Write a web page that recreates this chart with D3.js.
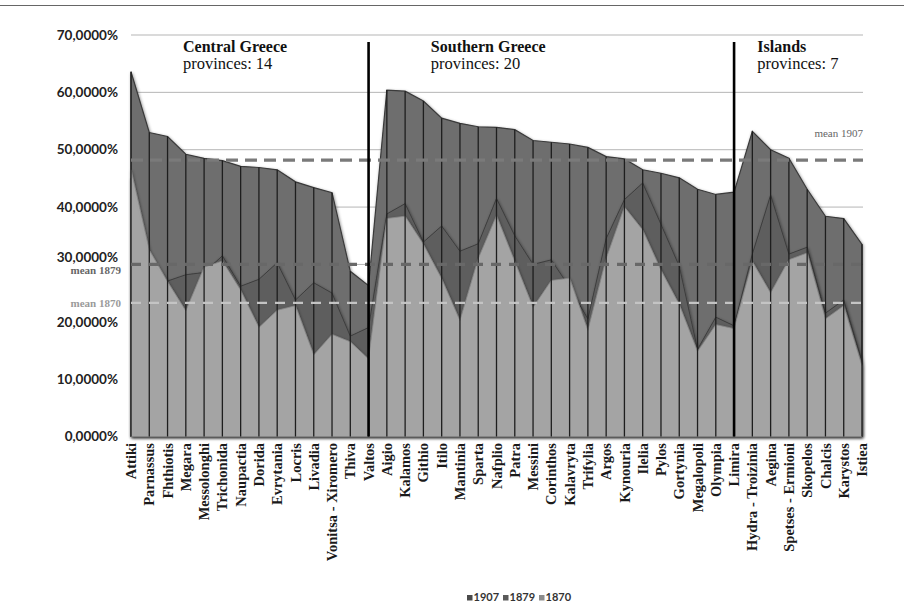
<!DOCTYPE html>
<html>
<head>
<meta charset="utf-8">
<script src="https://cdn.jsdelivr.net/npm/d3@7/dist/d3.min.js"></script>
<style>
  html, body { margin: 0; padding: 0; background: #fff; }
  svg { display: block; }
</style>
</head>
<body>
<svg id="chart" width="904" height="608"></svg>
<script>
const categories = ["Attiki","Parnassus","Fhthiotis","Megara","Messolonghi","Trichonida","Naupactia","Dorida","Evrytania","Locris","Livadia","Vonitsa - Xiromero","Thiva","Valtos","Aigio","Kalamos","Githio","Itilo","Mantinia","Sparta","Nafplio","Patra","Messini","Corinthos","Kalavryta","Trifylia","Argos","Kynouria","Ilelia","Pylos","Gortynia","Megalopoli","Olympia","Limira","Hydra - Troizinia","Aegina","Spetses - Ermioni","Skopelos","Chalcis","Karystos","Istiea"];
const v1907 = [63.6,53.0,52.3,49.2,48.5,48.1,47.1,46.9,46.5,44.4,43.4,42.5,28.8,26.3,60.4,60.2,58.5,55.5,54.6,54.0,53.9,53.5,51.6,51.3,51.0,50.4,48.8,48.4,46.5,45.9,45.1,43.1,42.2,42.6,53.2,50.0,48.5,43.1,38.4,38.0,33.5];
const v1879 = [45.0,31.0,27.1,28.2,28.6,31.5,26.2,27.4,30.3,23.8,26.8,25.0,17.5,19.0,38.8,40.6,33.9,36.7,32.3,33.6,41.5,35.0,30.0,30.8,26.0,20.5,34.5,41.3,44.2,37.0,29.7,15.2,20.8,19.3,31.8,42.1,31.8,33.0,21.5,23.8,13.2];
const v1870 = [46.5,32.5,27.0,21.9,29.5,30.6,25.5,19.0,22.0,22.8,14.2,17.8,16.5,13.5,38.0,38.4,33.5,27.5,20.2,31.0,38.5,30.5,22.5,27.2,27.6,18.5,31.0,40.0,36.0,29.0,23.0,14.8,19.5,18.8,30.5,25.0,30.8,32.0,20.5,22.8,12.3];
const yTicks = [0,10,20,30,40,50,60,70];
const means = [{name:"1907", value:48.2}, {name:"1879", value:30.0}, {name:"1870", value:23.3}];
const regions = [
  {title:"Central Greece", sub:"provinces: 14", first:"Attiki", dx:52},
  {title:"Southern Greece", sub:"provinces: 20", first:"Aigio", dx:44},
  {title:"Islands", sub:"provinces: 7", first:"Hydra - Troizinia", dx:5}
];
const dividers = ["Valtos","Limira"];
const legendItems = ["1907","1879","1870"];

const svg = d3.select("#chart");
const x = d3.scalePoint().domain(categories).range([131, 862]);
const y = d3.scaleLinear().domain([0, 70]).range([436.5, 35]);

// page top rule
svg.append("line").attr("x1",0).attr("x2",904).attr("y1",5.5).attr("y2",5.5)
  .attr("stroke","#666").attr("stroke-width",1);

const defs = svg.append("defs");
const f = defs.append("filter").attr("id","sh").attr("x","-5%").attr("y","-5%").attr("width","110%").attr("height","110%");
f.append("feDropShadow").attr("dx",0.8).attr("dy",1.2).attr("stdDeviation",1.4).attr("flood-color","#000").attr("flood-opacity",0.45);

// gridlines
svg.append("g").selectAll("line").data(yTicks).join("line")
  .attr("x1",131).attr("x2",863).attr("y1",d=>y(d)).attr("y2",d=>y(d))
  .attr("stroke","#b5b5b5").attr("stroke-width",1);

const area = vals => d3.area()
  .x((d,i)=>x(categories[i])).y0(y(0)).y1(d=>y(d))(vals);

svg.append("path").attr("d", area(v1907)).attr("fill","#6e6e6e")
  .attr("stroke","#3a3a3a").attr("stroke-width",1.2).attr("filter","url(#sh)");
svg.append("path").attr("d", area(v1879)).attr("fill","#5e5e5e").attr("fill-opacity",0.9)
  .attr("stroke","#3d3d3d").attr("stroke-width",1).attr("filter","url(#sh)");
svg.append("path").attr("d", area(v1870)).attr("fill","#a9a9a9").attr("fill-opacity",0.93)
  .attr("stroke","#8a8a8a").attr("stroke-width",0.8).attr("filter","url(#sh)");

// drop lines
svg.append("g").selectAll("line").data(categories).join("line")
  .attr("x1",d=>x(d)).attr("x2",d=>x(d))
  .attr("y1",(d,i)=>y(v1907[i])).attr("y2",y(0))
  .attr("stroke","#1e1e1e").attr("stroke-width",1.3);

// mean lines
const meanStyle = {"1907":{c:"#7a7a7a",w:3.2,da:"12,7"}, "1879":{c:"#686868",w:3.2,da:"10,8"}, "1870":{c:"#c4c4c4",w:2.2,da:"10,8"}};
svg.append("g").selectAll("line").data(means).join("line")
  .attr("x1",131).attr("x2",863).attr("y1",d=>y(d.value)).attr("y2",d=>y(d.value))
  .attr("stroke",d=>meanStyle[d.name].c).attr("stroke-width",d=>meanStyle[d.name].w)
  .attr("stroke-dasharray",d=>meanStyle[d.name].da);

// dividers
svg.append("g").selectAll("line").data(dividers).join("line")
  .attr("x1",d=>x(d)).attr("x2",d=>x(d)).attr("y1",42).attr("y2",y(0))
  .attr("stroke","#000").attr("stroke-width",2.6);

// y labels (30% label nudged up in the original to make room for the mean label)
svg.append("g").selectAll("text").data(yTicks).join("text")
  .attr("x",118).attr("y",d=>y(d) + (d===30 ? -7 : 0)).attr("dy","0.35em").attr("text-anchor","end")
  .attr("font-family","Lato, 'Open Sans', sans-serif").attr("font-weight","bold")
  .attr("font-size",13.5).attr("fill","#222")
  .text(d=>d.toFixed(4).replace(".",",")+"%");

// mean labels
svg.append("text").attr("x",863).attr("y",y(means[0].value)-23).attr("text-anchor","end")
  .attr("font-family","'Liberation Serif', serif").attr("font-size",11).attr("fill","#666").text("mean 1907");
svg.append("text").attr("x",121).attr("y",y(means[1].value)+10).attr("text-anchor","end")
  .attr("font-family","'Liberation Serif', serif").attr("font-weight","bold").attr("font-size",11).attr("fill","#666").text("mean 1879");
svg.append("text").attr("x",121).attr("y",y(means[2].value)+4).attr("text-anchor","end")
  .attr("font-family","'Liberation Serif', serif").attr("font-weight","bold").attr("font-size",11).attr("fill","#9a9a9a").text("mean 1870");

// region titles
const rg = svg.append("g").selectAll("g").data(regions).join("g");
rg.append("text").attr("x",d=>x(d.first)+d.dx)
  .attr("y",52).attr("font-family","'Liberation Serif', serif").attr("font-weight","bold")
  .attr("font-size",16).attr("fill","#111").text(d=>d.title);
rg.append("text").attr("x",d=>x(d.first)+d.dx)
  .attr("y",69).attr("font-family","'Liberation Serif', serif")
  .attr("font-size",16.5).attr("fill","#111").text(d=>d.sub);

// x labels
svg.append("g").selectAll("text").data(categories).join("text")
  .attr("transform",d=>`translate(${x(d)},443) rotate(-90)`)
  .attr("dy","0.35em").attr("text-anchor","end")
  .attr("font-family","'Liberation Serif', serif").attr("font-weight","bold")
  .attr("font-size",14.5).attr("fill","#1a1a1a").text(d=>d);

// legend
const legColors = {"1907":"#4a4a4a","1879":"#5a5a5a","1870":"#8c8c8c"};
const lg = svg.append("g").selectAll("g").data(legendItems).join("g")
  .attr("transform",(d,i)=>`translate(${467+i*36},601)`);
lg.append("rect").attr("x",0).attr("y",-6).attr("width",5.5).attr("height",5.5).attr("fill",d=>legColors[d]);
lg.append("text").attr("x",6.5).attr("y",0).attr("font-family","Lato, sans-serif").attr("font-weight","bold")
  .attr("font-size",11).attr("fill","#333").text(d=>d);
</script>
</body>
</html>
